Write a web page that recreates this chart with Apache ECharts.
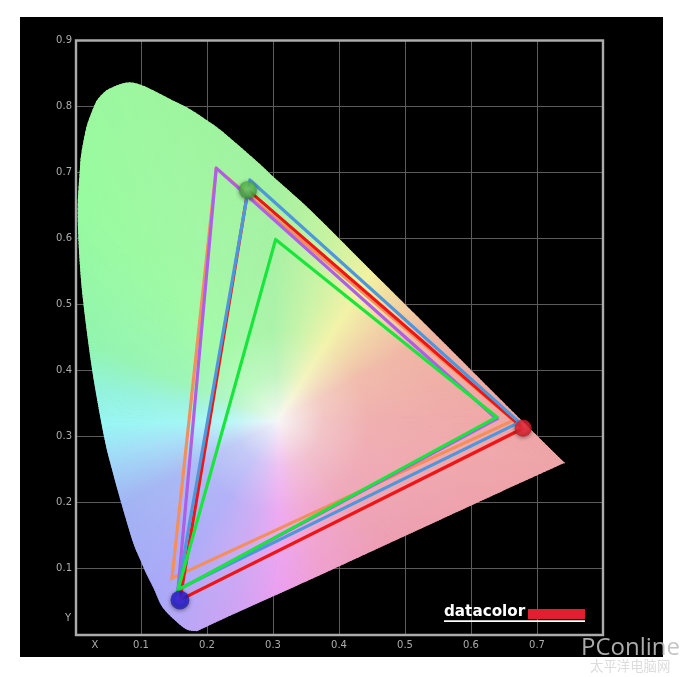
<!DOCTYPE html>
<html><head><meta charset="utf-8">
<style>html,body{margin:0;padding:0;background:#fff}#c{width:690px;height:677px;filter:blur(0.45px)}</style>
<script src="https://cdn.jsdelivr.net/npm/echarts@6/dist/echarts.min.js"></script>
</head><body><div id="c"></div>
<script>
// --- values ---
var xTicks = [0.1,0.2,0.3,0.4,0.5,0.6,0.7];
var yTicks = [0.1,0.2,0.3,0.4,0.5,0.6,0.7,0.8,0.9];
var gamutOutline = [
 [.185,.006],[.170,.008],[.153,.021],[.133,.042],[.120,.070],[.109,.092],[.098,.117],[.088,.142],[.071,.199],[.057,.250],[.045,.299],
 [.027,.400],[.014,.498],[.009,.550],[.006,.601],[.005,.650],[.008,.700],[.010,.725],[.015,.753],[.020,.774],[.030,.800],[.036,.811],[.048,.823],[.056,.827],[.068,.832],
 [.083,.835],[.100,.831],[.118,.823],[.144,.8095],[.170,.7966],[.200,.7773],[.220,.7629],[.245,.7417],[.280,.711],[.300,.692],[.335,.661],[.371,.627],
 [.450,.548],[.550,.449],[.650,.349],[.740,.260],[.650,.219],[.550,.173],[.450,.127],[.350,.081],[.250,.036]
];
var outlineCorners = [0,40]; // positions in gamutOutline of the two sharp tips
var whitePoint = [0.308,0.324];
var triangleRed    = [[.262,.673],[.679,.312],[.159,.052]];
var triangleBlue   = [[.265,.688],[.673,.321],[.156,.068]];
var triangleGreen  = [[.304,.598],[.639,.329],[.156,.067]];
var trianglePurple = [[.214,.706],[.639,.326],[.156,.067]];
var triangleOrange = [[.214,.706],[.664,.324],[.147,.085]];
var primaries = [[.679,.312],[.262,.673],[.159,.052]];

// --- hue of the diagram by direction from the white point ---
var hueStops = [
 [0,'#efa6a6'],[28,'#f0b4a2'],[40,'#f1cca2'],[58,'#f2f2a2'],[74,'#c8f3a0'],[92,'#a2f2a0'],
 [130,'#98fb9e'],[158,'#92f5b0'],[170,'#92f3dc'],[181,'#98f6f4'],[190,'#a0e0f8'],[208,'#a2b4f4'],
 [236,'#aaa8f8'],[256,'#cca4f4'],[270,'#eca0f0'],[285,'#f0a0d0'],[310,'#ee9fb4'],[360,'#efa6a6']
];
function rgb(h){return [parseInt(h.substr(1,2),16),parseInt(h.substr(3,2),16),parseInt(h.substr(5,2),16)];}
function hueAt(a){
  a=(a%360+360)%360;
  for(var i=0;i<hueStops.length-1;i++){
    var s=hueStops[i],e=hueStops[i+1];
    if(a>=s[0]&&a<=e[0]){
      var t=(a-s[0])/(e[0]-s[0]),p=rgb(s[1]),q=rgb(e[1]);
      return [0,1,2].map(function(k){return p[k]+(q[k]-p[k])*t;});
    }
  }
  return rgb(hueStops[0][1]);
}
function css(c,m){ // m = share of the hue, rest is near white
  return 'rgb('+[0,1,2].map(function(k){return Math.round(248+(c[k]-248)*m);}).join(',')+')';
}
function spline(p0,p1,p2,p3,t){
  var t2=t*t,t3=t2*t;
  return [0,1].map(function(k){
    return 0.5*(2*p1[k]+(p2[k]-p0[k])*t+(2*p0[k]-5*p1[k]+4*p2[k]-p3[k])*t2+(3*p1[k]-p0[k]-3*p2[k]+p3[k])*t3);
  });
}
function renderWedge(params,api){
  var n=gamutOutline.length,i=params.dataIndex,w=api.coord(whitePoint);
  var idx=[(i-1+n)%n,i,(i+1)%n,(i+2)%n];
  var P=idx.map(function(j){return api.coord(gamutOutline[j]);});
  if(outlineCorners.indexOf(idx[1])>=0)P[0]=P[1];
  if(outlineCorners.indexOf(idx[2])>=0)P[3]=P[2];
  var ang=function(p){return Math.atan2(w[1]-p[1],p[0]-w[0]);};
  var span=Math.abs(ang(P[2])-ang(P[1]));if(span>Math.PI)span=2*Math.PI-span;
  var N=Math.max(2,Math.ceil(span*180/Math.PI/0.6)),kids=[];
  for(var s=0;s<N;s++){
    var p=spline(P[0],P[1],P[2],P[3],s/N),q=spline(P[0],P[1],P[2],P[3],(s+1)/N),
        m=[(p[0]+q[0])/2,(p[1]+q[1])/2],
        dx=m[0]-w[0],dy=m[1]-w[1],len=Math.sqrt(dx*dx+dy*dy),
        c=hueAt(Math.atan2(-dy,dx)*180/Math.PI);
    var f=function(r){return Math.min(0.98,r/len);};
    var grad={type:'linear',global:true,x:w[0],y:w[1],x2:m[0],y2:m[1],colorStops:[
      {offset:0,color:css(c,0.03)},{offset:f(18),color:css(c,0.28)},{offset:f(45),color:css(c,0.62)},
      {offset:f(90),color:css(c,0.88)},{offset:1,color:css(c,1)}]};
    kids.push({type:'polygon',shape:{points:[w,p,q]},style:{fill:grad,stroke:grad,lineWidth:1.2}});
  }
  return {type:'group',children:kids};
}
var wedges=gamutOutline.map(function(p,i){var n=gamutOutline[(i+1)%gamutOutline.length];return [p[0],p[1],n[0],n[1]];});

function tri(name,pts,color,z,w){
  return {name:name,type:'line',data:pts.concat([pts[0]]),symbol:'none',silent:true,z:z,
    lineStyle:{color:color,width:w||3.2,join:'miter',cap:'round'}};
}
function ball(c1,c2,c3){
  return {type:'radial',x:0.5,y:0.45,r:0.6,colorStops:[{offset:0,color:c1},{offset:0.6,color:c2},{offset:1,color:c3}]};
}
var ballStyle=[ball('#f83c50','#e6222f','#a81824'),ball('#84dc70','#52b846','#3a7a3c'),ball('#3a30f4','#2418d0','#2a2a88')];
var ballSize=[17,18,19];

var chart=echarts.init(document.getElementById('c'),null,{renderer:'canvas'});
chart.setOption({
  animation:false,
  backgroundColor:'#fff',
  grid:{left:75,top:40,width:528,height:594.3,show:false},
  xAxis:{type:'value',min:0,max:0.8,interval:0.1,
    axisLine:{show:false},axisTick:{show:false},
    axisLabel:{color:'#acacac',fontSize:10,margin:6,fontFamily:'DejaVu Sans',
      formatter:function(v){var r=Math.round(v*10)/10;return xTicks.indexOf(r)>=0?r.toFixed(1):'';}},
    splitLine:{show:true,lineStyle:{color:'#5c5c5c',width:1}}},
  yAxis:{type:'value',min:0,max:0.9,interval:0.1,
    axisLine:{show:false},axisTick:{show:false},
    axisLabel:{color:'#acacac',fontSize:10,margin:3,fontFamily:'DejaVu Sans',
      formatter:function(v){var r=Math.round(v*10)/10;return yTicks.indexOf(r)>=0?r.toFixed(1):'';}},
    splitLine:{show:true,lineStyle:{color:'#5c5c5c',width:1}}},
  graphic:[
    {type:'rect',z:-5,shape:{x:20,y:17,width:643,height:640},style:{fill:'#000'}},
    {type:'rect',z:100,shape:{x:76,y:40.5,width:527,height:594.5},style:{fill:'none',stroke:'#acacac',lineWidth:2.4}},
    {type:'text',z:100,x:95,y:645,style:{text:'X',fill:'#acacac',font:'10px "DejaVu Sans"',align:'center',verticalAlign:'middle'}},
    {type:'text',z:100,x:68,y:618,style:{text:'Y',fill:'#acacac',font:'10px "DejaVu Sans"',align:'center',verticalAlign:'middle'}},
    {type:'text',z:100,x:444,y:612.5,style:{text:'datacolor',fill:'#fff',font:'bold 15.2px "DejaVu Sans"',align:'left',verticalAlign:'middle'}},
    {type:'rect',z:100,shape:{x:528,y:609,width:57,height:10},style:{fill:'#e21f30'}},
    {type:'rect',z:100,shape:{x:444,y:620.3,width:141,height:1.8},style:{fill:'#fff'}},
    {type:'text',z:100,x:581,y:648,style:{text:'PConline',fill:'rgba(190,190,190,0.9)',font:'24px "Open Sans"',align:'left',verticalAlign:'middle'}},
    {type:'text',z:100,x:590,y:666,style:{text:'太平洋电脑网',fill:'#dcdcdc',font:'13.4px "Noto Sans CJK SC"',align:'left',verticalAlign:'middle'}}
  ],
  series:[
    {type:'custom',coordinateSystem:'cartesian2d',silent:true,z:1,renderItem:renderWedge,
     encode:{x:[0,2],y:[1,3]},data:wedges,clip:false},
    tri('orange',triangleOrange,'#f28f5c',3),
    tri('purple',trianglePurple,'#ad5fe6',4),
    tri('red',triangleRed,'#f01414',5),
    tri('blue',triangleBlue,'#4f97dd',6),
    tri('green',triangleGreen,'#18e63c',7),
    {type:'scatter',z:8,silent:true,data:primaries.map(function(p,i){
        return {value:p,symbolSize:ballSize[i],itemStyle:{color:ballStyle[i],shadowColor:'rgba(0,0,0,0.55)',shadowBlur:4,shadowOffsetY:1}};
     })}
  ]
});
</script></body></html>
